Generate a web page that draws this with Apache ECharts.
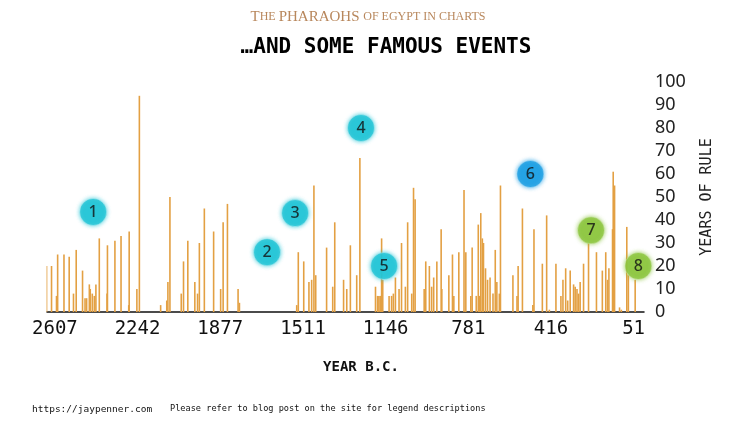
<!DOCTYPE html>
<html>
<head>
<meta charset="utf-8">
<script src="https://cdn.jsdelivr.net/npm/echarts@6/dist/echarts.min.js"></script>
<style>
  html, body { margin: 0; padding: 0; background: #ffffff; }
  #chart { width: 750px; height: 422px; }
</style>
</head>
<body>
<div id="chart"></div>
<script>
// Start year (B.C.) of each reign
const reignStart = [
  2644, 2622, 2600, 2595, 2567, 2544, 2525, 2513, 2485, 2474, 2467, 2455, 2451, 2442, 2433, 2426,
  2411, 2377, 2375, 2342, 2315, 2281, 2279, 2245, 2234,
  2140, 2113, 2108, 2099, 2049, 2039, 2020, 1989, 1977, 1969, 1947, 1906, 1875, 1864, 1845, 1798, 1792,
  1539, 1532, 1508, 1485, 1473, 1463, 1455, 1407, 1380, 1371, 1332, 1318, 1302, 1274, 1260,
  1191, 1182, 1176, 1170, 1164, 1159, 1131, 1120, 1112, 1103, 1087, 1076, 1059, 1049, 1031, 1023, 1016,
  976, 969, 953, 943, 934, 920, 901, 898, 867, 851, 845, 823, 800, 792, 770, 764, 746, 737, 731, 726,
  719, 714, 705, 696, 685, 672, 662, 655, 644, 639, 584, 566, 561, 542, 496, 491, 454,
  435, 423, 394, 372, 363, 351, 342, 331, 316, 309, 301, 294, 287, 272, 250, 215, 189, 174, 166, 160,
  144, 141, 135, 113, 105, 81, 74, 44
];
// Years of rule for each reign
const reignLength = [
  20, 20, 7, 25, 25, 24, 8, 27, 18, 6, 6, 12, 10, 8, 7, 12,
  32, 8, 29, 31, 33, 3, 35, 10, 94,
  3, 5, 13, 50, 8, 22, 31, 13, 8, 30, 45, 35, 10, 39, 47, 10, 4,
  3, 26, 22, 13, 14, 55, 16, 28, 11, 39, 14, 10, 29, 16, 67,
  11, 7, 7, 7, 32, 14, 7, 7, 8, 15, 10, 30, 11, 39, 8, 54, 49,
  10, 22, 20, 11, 15, 22, 36, 10, 16, 25, 7, 26, 53, 26, 7, 28, 7, 38, 7, 43,
  32, 30, 19, 14, 15, 8, 27, 13, 8, 55, 16, 7, 20, 45, 3, 36, 21,
  42, 1, 21, 7, 14, 19, 5, 18, 12, 11, 10, 8, 13, 21, 30, 26, 18, 26, 14, 19,
  36, 61, 55, 2, 1, 37, 16, 14
];
// Famous events markers
const eventYear  = [2438, 1670, 1546, 1255, 1153, 507, 239, 30];
const eventValue = [43.5, 26, 43, 80, 20, 60, 35.5, 20];
const eventLabel = ['1', '2', '3', '4', '5', '6', '7', '8'];
const eventColor = ['#22c4d6', '#22c4d6', '#22c4d6', '#22c4d6', '#22c4d6', '#1b9fe3', '#8cc63f', '#8cc63f'];
// Axis ticks
const xTicks = [2607, 2242, 1877, 1511, 1146, 781, 416, 51];

const chart = echarts.init(document.getElementById('chart'), null, { renderer: 'canvas' });

const barData = reignStart.map((y, i) => [y, reignLength[i]]);
const eventData = eventYear.map((y, i) => ({
  value: [y, eventValue[i]],
  label: { formatter: eventLabel[i] },
  itemStyle: { color: eventColor[i], shadowColor: eventColor[i], shadowBlur: 4, borderColor: 'rgba(255,255,255,0.35)', borderWidth: 1 }
}));

chart.setOption({
  animation: false,
  backgroundColor: '#ffffff',
  grid: { left: 47, right: 106, top: 82, bottom: 110, containLabel: false },
  xAxis: {
    type: 'value',
    inverse: true,
    min: 5,
    max: 2642,
    splitLine: { show: false },
    axisTick: { show: false },
    axisLine: { show: true, onZero: false, lineStyle: { color: '#111', width: 1.5 } },
    axisLabel: {
      customValues: xTicks,
      formatter: (v) => String(v),
      margin: 8,
      color: '#111',
      fontFamily: 'DejaVu Sans Mono',
      fontSize: 19
    }
  },
  yAxis: {
    type: 'value',
    position: 'right',
    min: 0,
    max: 100,
    interval: 10,
    splitLine: { show: false },
    axisLine: { show: false },
    axisTick: { show: false },
    axisLabel: {
      margin: 11,
      align: 'left',
      color: '#222',
      fontFamily: 'Noto Sans',
      fontSize: 18
    },
    name: 'YEARS OF RULE',
    nameLocation: 'middle',
    nameRotate: 90,
    nameGap: 56,
    nameTextStyle: { color: '#222', fontFamily: 'DejaVu Sans Mono', fontSize: 15 }
  },
  series: [
    {
      type: 'bar',
      data: barData,
      barWidth: 1.6,
      itemStyle: { color: '#e3a043' }
    },
    {
      type: 'scatter',
      data: eventData,
      symbol: 'circle',
      symbolSize: 27,
      z: 5,
      label: {
        show: true,
        position: 'inside',
        color: '#111',
        fontFamily: 'Noto Sans',
        fontSize: 16,
        fontWeight: 500
      }
    }
  ],
  graphic: [
    {
      type: 'text', x: 368, y: 17,
      style: {
        text: '{a|T}{b|HE }{a|PHARAOHS }{b|OF EGYPT IN CHARTS}',
        align: 'center', verticalAlign: 'middle',
        rich: {
          a: { fontFamily: 'Liberation Serif', fontSize: 15, fill: '#b8875c', color: '#b8875c' },
          b: { fontFamily: 'Liberation Serif', fontSize: 12, fill: '#b8875c', color: '#b8875c' }
        }
      }
    },
    {
      type: 'text', x: 386, y: 48,
      style: {
        text: '\u2026AND SOME FAMOUS EVENTS',
        align: 'center', verticalAlign: 'middle',
        fontFamily: 'DejaVu Sans Mono', fontWeight: 'bold', fontSize: 21, fill: '#000'
      }
    },
    {
      type: 'text', x: 361, y: 367,
      style: {
        text: 'YEAR B.C.',
        align: 'center', verticalAlign: 'middle',
        fontFamily: 'DejaVu Sans Mono', fontWeight: 'bold', fontSize: 14, fill: '#111'
      }
    },
    {
      type: 'text', x: 32, y: 410,
      style: {
        text: 'https://jaypenner.com',
        align: 'left', verticalAlign: 'middle',
        fontFamily: 'DejaVu Sans Mono', fontSize: 9.5, fill: '#111'
      }
    },
    {
      type: 'text', x: 170, y: 409,
      style: {
        text: 'Please refer to blog post on the site for legend descriptions',
        align: 'left', verticalAlign: 'middle',
        fontFamily: 'DejaVu Sans Mono', fontSize: 8.6, fill: '#111'
      }
    }
  ]
});
</script>
</body>
</html>
